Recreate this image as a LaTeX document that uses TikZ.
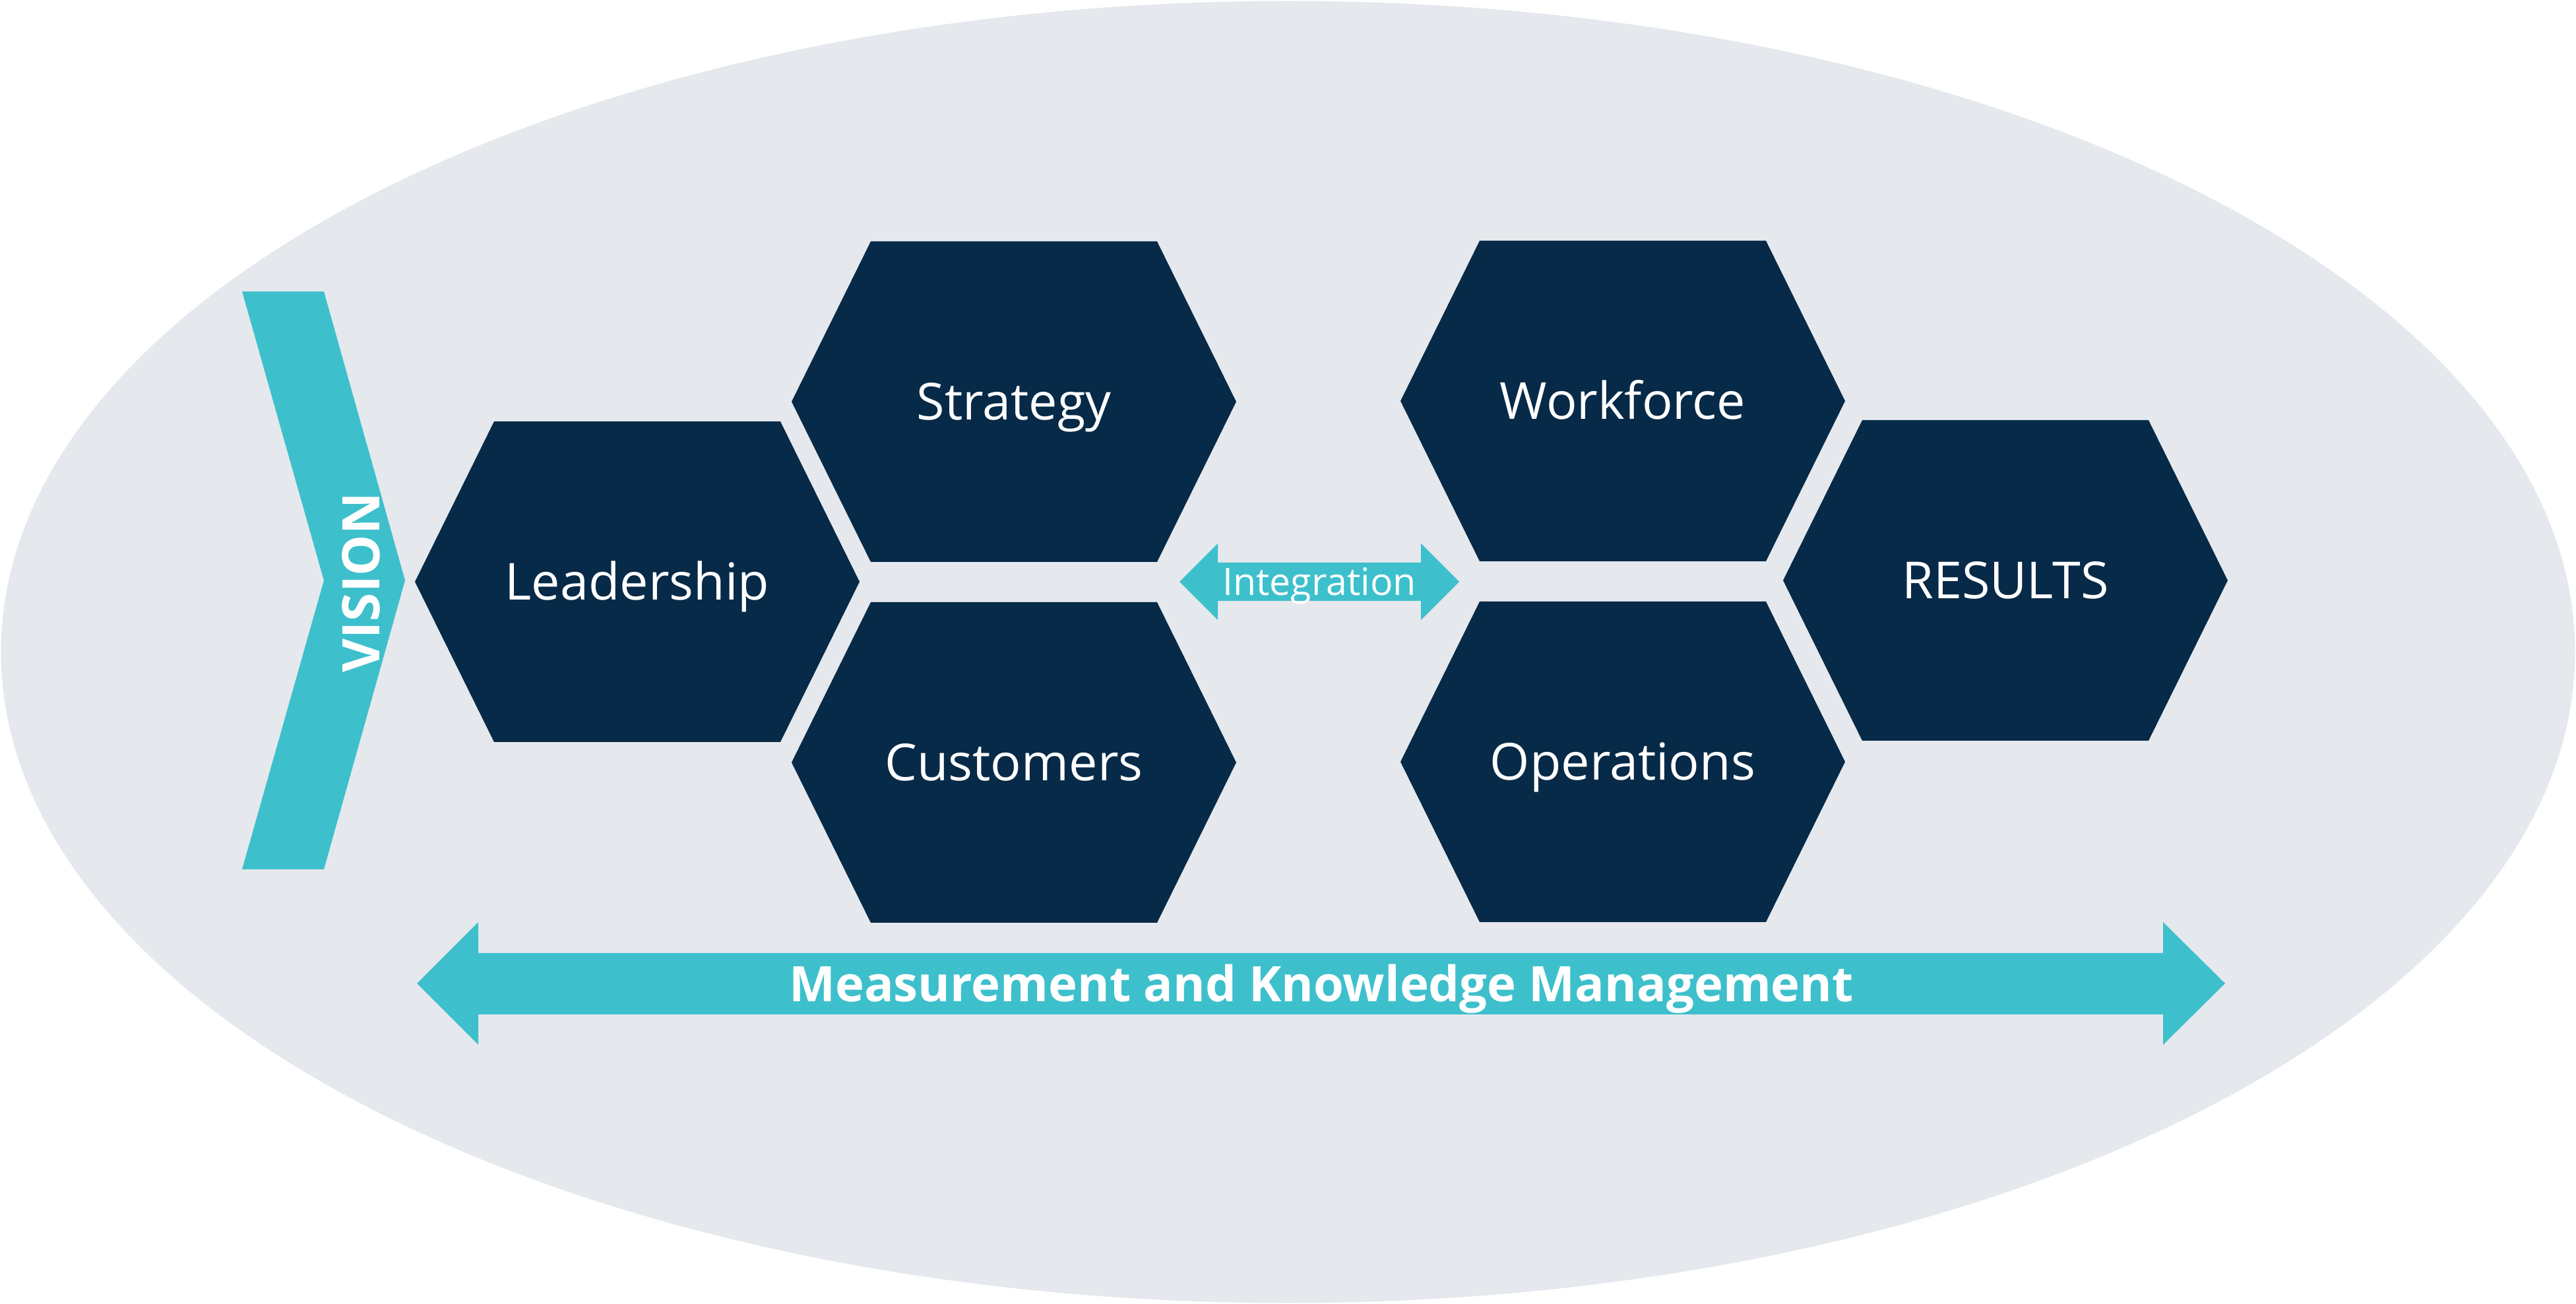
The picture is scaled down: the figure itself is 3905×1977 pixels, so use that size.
\documentclass[tikz,border=0pt]{standalone}
\usepackage{fontspec}
\setmainfont{Open Sans}
\usetikzlibrary{calc}
\definecolor{bgell}{HTML}{E5E8ED}
\definecolor{navyc}{HTML}{072A48}
\definecolor{tealc}{HTML}{3DC0CC}
\begin{document}
\begin{tikzpicture}[x=0.01cm,y=-0.01cm,
  hexpic/.pic={\fill[navyc] (-337,0) -- (-217,-243) -- (217,-243) -- (337,0) -- (217,243) -- (-217,243) -- cycle;},
  hextext/.style={text=white, font=\fontsize{22}{26}\selectfont, anchor=base, inner sep=0pt},
  arrowfill/.style={fill=tealc},
]
\useasboundingbox (0,0) rectangle (3905,1977);
% background ellipse
\fill[bgell] (1952.5,988.5) ellipse [x radius=1951, y radius=987];

% VISION chevron
\fill[arrowfill] (367,442) -- (491,442) -- (614,880) -- (491,1318) -- (367,1318) -- (491,880) -- cycle;
\node[text=white, font=\fontsize{22.3}{26}\selectfont\bfseries, rotate=90, inner sep=0pt] (vision) at (547,883) {VISION};

% hexagons
\pic at (966,882) {hexpic};
\pic at (1537,609) {hexpic};
\pic at (1537,1156) {hexpic};
\pic at (2460,608) {hexpic};
\pic at (2460,1155) {hexpic};
\pic at (3040,880) {hexpic};

\node[hextext] (lead) at (966,910) {Leadership};
\node[hextext] (strat) at (1537,637) {Strategy};
\node[hextext] (cust) at (1537,1184) {Customers};
\node[hextext] (work) at (2460,636) {Workforce};
\node[hextext] (oper) at (2460,1183) {Operations};
\node[hextext] (res) at (3040,908) {RESULTS};

% Integration double arrow
\fill[arrowfill] (1788,882) -- (1846,824) -- (1846,853) -- (2154,853) -- (2154,824) -- (2212,882) -- (2154,940) -- (2154,911) -- (1846,911) -- (1846,940) -- cycle;
\node[text=white, font=\fontsize{16.3}{19}\selectfont, anchor=base, inner sep=0pt] (integ) at (2000,903) {Integration};

% Measurement double arrow
\fill[arrowfill] (632,1491) -- (725,1398) -- (725,1445) -- (3279,1445) -- (3279,1398) -- (3373,1491) -- (3279,1584) -- (3279,1538) -- (725,1538) -- (725,1584) -- cycle;
\node[text=white, font=\fontsize{21.1}{25}\selectfont\bfseries, anchor=base, inner sep=0pt] (meas) at (2003,1518) {Measurement and Knowledge Management};
\end{tikzpicture}
\end{document}
